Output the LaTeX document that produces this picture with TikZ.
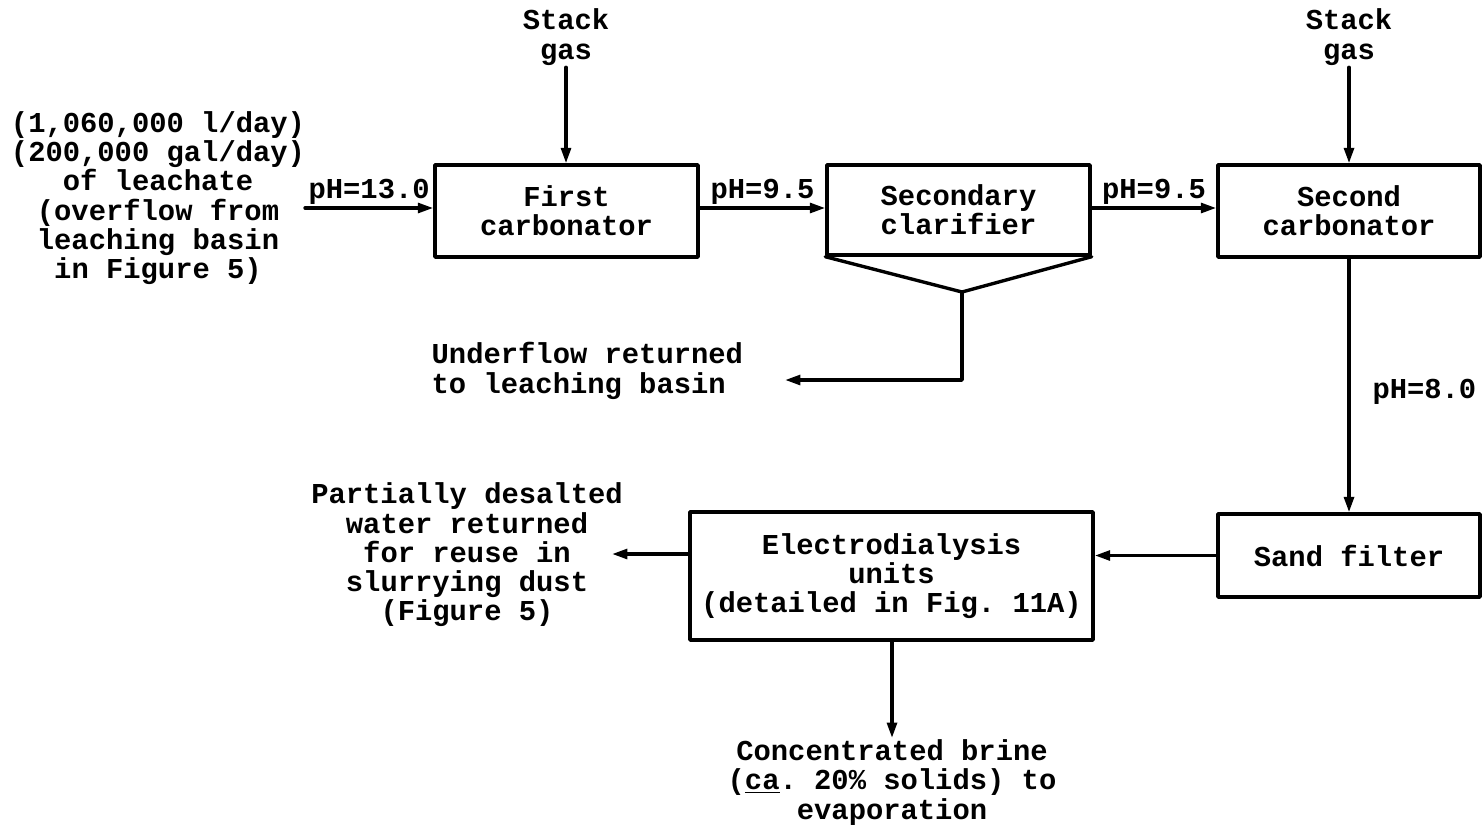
\documentclass[tikz,border=0pt]{standalone}
\usepackage{fontspec}
\setmonofont{Liberation Mono}
\usetikzlibrary{calc,positioning,arrows.meta}

\tikzset{
	unitbox/.style={draw, line width=2.4pt, align=center, inner sep=0pt},
	flow/.style={line width=2.4pt, -{Triangle[length=11pt,width=7pt]}},
	plain/.style={align=center, inner sep=1pt},
	phlabel/.style={inner sep=1.5pt}
}

\begin{document}
\begin{tikzpicture}[
		x=0.025cm,
		y=-0.025cm,
		line cap=round,
		line join=round,
		>=Triangle,
		font=\ttfamily\bfseries\fontsize{20.5}{20.8}\selectfont
		]
		
		\useasboundingbox (0,0) rectangle (1484,829);
		
		%------------------------------------------------------------------
		% Units
		%------------------------------------------------------------------
		\node[unitbox, minimum width=6.575cm, minimum height=2.3cm]
		(first) at (566.5,211) {First\\carbonator};
		\node[unitbox, minimum width=6.575cm, minimum height=2.25cm]
		(clar) at (958.5,210) {Secondary\\clarifier};
		\node[unitbox, minimum width=6.55cm, minimum height=2.3cm]
		(second) at (1349,211) {Second\\carbonator};
		\node[unitbox, minimum width=6.55cm, minimum height=2.075cm]
		(sand) at (1349,555.5) {Sand filter};
		\node[unitbox, minimum width=10.075cm, minimum height=3.2cm]
		(ed) at (891.5,576) {Electrodialysis\\units\\(detailed in Fig. 11A)};
		
		%------------------------------------------------------------------
		% Free texts
		%------------------------------------------------------------------
		\node[plain, font=\ttfamily\bfseries\fontsize{20.5}{21.5}\selectfont]
		(stackA) at (566,37) {Stack\\gas};
		\node[plain, font=\ttfamily\bfseries\fontsize{20.5}{21.5}\selectfont]
		(stackB) at (1349,37) {Stack\\gas};
		
		\node[plain] (leachate) at (158,198)
		{(1,060,000 l/day)\\(200,000 gal/day)\\of leachate\\(overflow from\\leaching basin\\in Figure 5)};
		
		\node[plain, align=left, anchor=west] (underflow) at (430,371)
		{Underflow returned\\to leaching basin};
		
		\node[plain] (reuse) at (467,555)
		{Partially desalted\\water returned\\for reuse in\\slurrying dust\\(Figure 5)};
		
		\node[plain, anchor=north] (brine) at (892,738)
		{Concentrated brine\\(\underline{ca}. 20\% solids) to\\evaporation};
		
		%------------------------------------------------------------------
		% Coordinates
		%------------------------------------------------------------------
		\coordinate (feedIn)   at (305,208);
		\coordinate (hopper)   at (962,292);
		\coordinate (underTip) at (785,380);
		\coordinate (reuseTip) at (612,554);
		
		%------------------------------------------------------------------
		% Clarifier hopper
		%------------------------------------------------------------------
		\draw[line width=2.4pt] (clar.south west) -- (hopper) -- (clar.south east);
		
		%------------------------------------------------------------------
		% Flows
		%------------------------------------------------------------------
		\draw[flow] (stackA.south) -- (stackA.south |- first.north);
		\draw[flow] (stackB.south) -- (stackB.south |- second.north);
		
		\draw[flow] (feedIn) -- (feedIn -| first.west)
		node[midway, above, phlabel] {pH=13.0};
		\draw[flow] (first.east |- feedIn) -- (feedIn -| clar.west)
		node[midway, above, phlabel] {pH=9.5};
		\draw[flow] (clar.east |- feedIn) -- (feedIn -| second.west)
		node[midway, above, phlabel] {pH=9.5};
		
		\draw[flow] (second.south) -- (sand.north)
		node[midway, right, phlabel, xshift=14pt, yshift=-4.5pt] {pH=8.0};
		
		\draw[flow] (hopper) |- (underTip);
		
		\draw[flow] (sand.west) -- (sand.west -| ed.east);
		\draw[flow] (reuseTip -| ed.west) -- (reuseTip);
		\draw[flow] (ed.south -| brine.north) -- (brine.north);
		
	\end{tikzpicture}
\end{document}
